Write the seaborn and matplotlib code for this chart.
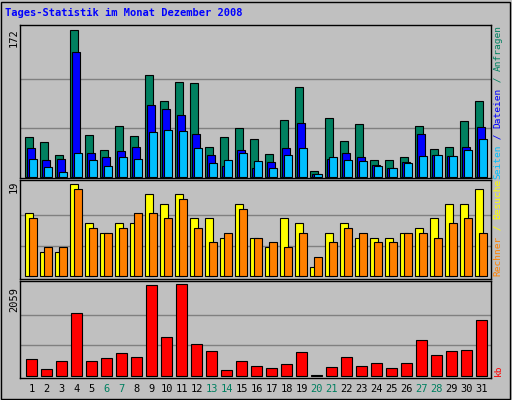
import matplotlib
matplotlib.use("Agg")
import matplotlib.pyplot as plt
import seaborn as sns
import pandas as pd
import numpy as np

days = list(range(1, 32))
weekend = [6, 7, 13, 14, 20, 21, 27, 28]
anfragen = [47,41,26,172,49,32,60,48,119,89,111,110,35,47,57,45,27,67,105,7,69,42,62,20,20,24,60,33,35,66,89]
dateien = [34,20,21,146,28,24,30,35,84,80,73,50,26,13,32,11,18,34,63,4,21,28,23,14,11,18,50,26,25,35,59]
seiten = [21,12,6,28,20,13,23,21,53,55,54,34,16,20,28,19,11,26,34,4,24,20,19,13,11,16,25,26,25,32,45]
besuche = [13,5,5,19,11,9,11,11,17,15,17,12,12,8,15,8,6,12,11,2,9,11,8,8,8,9,10,12,15,15,18]
rechner = [12,6,6,18,10,9,10,13,13,12,16,10,7,9,14,8,7,6,9,4,7,10,9,7,7,9,9,8,11,12,9]
kb = [376,143,323,1405,323,398,503,413,2036,864,2059,706,549,120,323,210,165,255,526,20,188,413,210,278,165,278,797,458,549,571,1247]

sns.set_style("white")
plt.rcParams['font.family'] = ['DejaVu Sans Mono', 'DejaVu Sans']
BG = "#C0C0C0"
W, H = 512, 400
fig = plt.figure(figsize=(5.12, 4.0), dpi=100, facecolor=BG)

def ax_px(x0, y0, x1, y1):
    return fig.add_axes([x0 / W, 1 - y1 / H, (x1 - x0) / W, (y1 - y0) / H])

x = np.array(days, dtype=float)
xl = (1 - 11 / 15, 1 - 11 / 15 + 471 / 15)

def style(ax, ymax, ylo):
    ax.set_facecolor(BG)
    ax.set_xlim(*xl)
    ax.set_ylim(ylo, ymax)
    ax.set_xticks([]); ax.set_yticks([])
    for s in ax.spines.values():
        s.set_color("black"); s.set_linewidth(1)
        s.set_visible(True)

def grid(ax, top):
    for f in (1/3, 2/3):
        ax.axhline(top * f, color="#808080", lw=1, zorder=0)

bw = 0.49
# top
a1 = ax_px(20, 25, 491, 178)
style(a1, 172 * 152 / 147.4, -1)
grid(a1, 172)
a1.bar(x - 2/15, anfragen, width=bw, color="#008060", edgecolor="black", lw=0.8, zorder=2)
a1.bar(x, dateien, width=bw, color="#0000FF", edgecolor="black", lw=0.8, zorder=3)
a1.bar(x + 2/15, seiten, width=bw, color="#00BFFF", edgecolor="black", lw=0.8, zorder=4)

# middle
a2 = ax_px(20, 180, 491, 279)
style(a2, 19 + 4.3 / 92 * 19, -0.56)
grid(a2, 19)
a2.bar(x - 2/15, besuche, width=bw, color="#FFFF00", edgecolor="black", lw=0.8, zorder=2)
a2.bar(x + 2/15, rechner, width=bw, color="#FF8000", edgecolor="black", lw=0.8, zorder=3)

# bottom
a3 = ax_px(20, 281, 491, 378)
grid(a3, 2059)
df = pd.DataFrame({"day": x + 0.5/15, "kb": kb})
sns.barplot(data=df, x="day", y="kb", native_scale=True, width=0.69, color="#FF0000",
            saturation=1, edgecolor="black", linewidth=0.8, ax=a3, zorder=2)
style(a3, 2059 + 2059 * 3.3 / 91.4, -52)
a3.set_xlabel(""); a3.set_ylabel("")

def fx(px): return px / W
def fy(py): return 1 - py / H

fig.text(fx(5), fy(16), "Tages-Statistik im Monat Dezember 2008", color="#0000FF",
         fontsize=7.5, fontweight="bold", va="baseline", ha="left")
for lbl, py in (("172", 38), ("19", 187), ("2059", 300)):
    fig.text(fx(14), fy(py), lbl, rotation=90, fontsize=7.5, ha="center", va="center", color="black")

for d in days:
    px = 20 + 11 + 0.5 + 15 * (d - 1)
    fig.text(fx(px), fy(389), str(d), fontsize=7.5, ha="center", va="center",
             color="#008060" if d in weekend else "black")

adv = 0.602 * 6.8 * 100 / 72
def vlabel(parts, ybottom):
    y = ybottom
    for txt, col in parts:
        fig.text(fx(498), fy(y), txt, rotation=90, fontsize=6.8, color=col,
                 ha="center", va="bottom")
        y -= adv * len(txt)

vlabel([("Seiten", "#00BFFF"), (" / ", "#0000FF"), ("Dateien", "#0000FF"),
        (" / ", "#008060"), ("Anfragen", "#008060")], 179)
vlabel([("Rechner", "#FF8000"), (" / ", "#FFFF00"), ("Besuche", "#FFFF00")], 276)
vlabel([("kb", "#FF0000")], 376)

# outer frame
fig.add_artist(plt.Rectangle((0.002, 0.002), 0.994, 0.994, transform=fig.transFigure,
                             fill=False, edgecolor="black", lw=1))
fig.savefig("out.png", dpi=100, facecolor=BG)
